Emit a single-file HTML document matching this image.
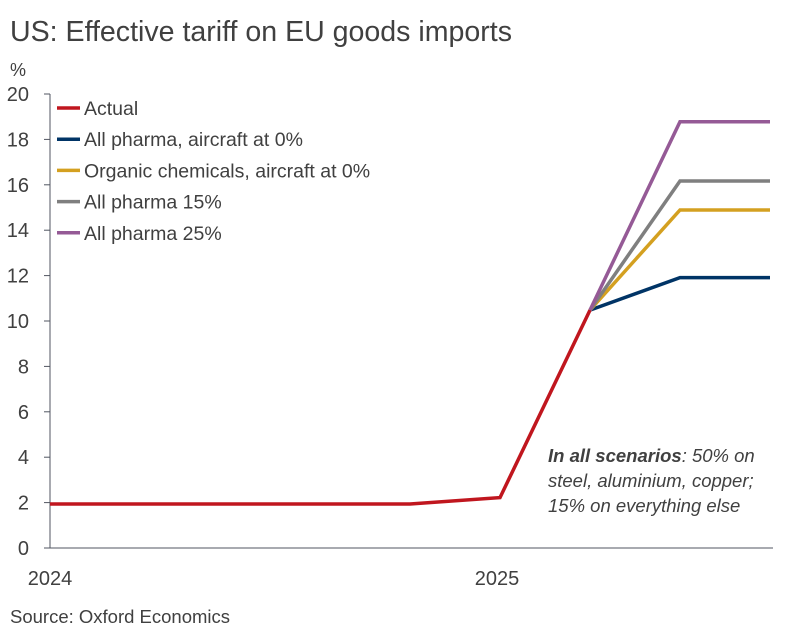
<!DOCTYPE html>
<html><head><meta charset="utf-8"><style>
body{margin:0;background:#fff;}
svg{display:block;font-family:"Liberation Sans",sans-serif;}
</style></head><body>
<svg id="c" width="796" height="633">
<text x="10" y="41" font-size="28.5" fill="#404040" textLength="502" lengthAdjust="spacingAndGlyphs">US: Effective tariff on EU goods imports</text>
<text x="10" y="76" font-size="18" fill="#404040">%</text>
<text x="10" y="623" font-size="18.5" fill="#404040">Source: Oxford Economics</text>
<g id="axes"></g>
<g id="series"></g>
<g id="legend"></g>
<text font-size="18.5" font-style="italic" fill="#404040">
<tspan x="548" y="462"><tspan font-weight="bold">In all scenarios</tspan>: 50% on</tspan>
<tspan x="548" y="487">steel, aluminium, copper;</tspan>
<tspan x="548" y="512">15% on everything else</tspan>
</text>
</svg>
<script>
const quarters=["2024Q1","2024Q2","2024Q3","2024Q4","2025Q1","2025Q2","2025Q3","2025Q4","2026Q1"];
const actual=[1.94,1.94,1.94,1.94,1.94,2.22,10.48,null,null];
const pharmaAircraft0=[null,null,null,null,null,null,10.48,11.91,11.91];
const organicChem=[null,null,null,null,null,null,10.48,14.89,14.89];
const pharma15=[null,null,null,null,null,null,10.48,16.17,16.17];
const pharma25=[null,null,null,null,null,null,10.48,18.78,18.78];
const yTicks=[0,2,4,6,8,10,12,14,16,18,20];
const xLabels=[["2024",0],["2025",5]];
const seriesNames=["Actual","All pharma, aircraft at 0%","Organic chemicals, aircraft at 0%","All pharma 15%","All pharma 25%"];
const NS="http://www.w3.org/2000/svg";
const X=i=>50+i*90;
const Y=v=>548-v*22.7;
function mk(t,a,p){const e=document.createElementNS(NS,t);for(const k in a)e.setAttribute(k,a[k]);p.appendChild(e);return e;}
const ax=document.getElementById('axes');
let yl=mk('line',{x1:50,y1:Y(20),x2:50,y2:548,stroke:'#505560','stroke-width':1},ax);


let xl=mk('line',{x1:44,y1:548,x2:773,y2:548,stroke:'#505560','stroke-width':1},ax);


yTicks.forEach(v=>{
 mk('line',{x1:44,y1:Y(v),x2:50,y2:Y(v),stroke:'#505560'},ax);
 const t=mk('text',{x:29,y:Y(v)+7,'font-size':20,fill:'#404040','text-anchor':'end'},ax);
 t.textContent=v;
 
 
});
xLabels.forEach(([s,i])=>{
 const t=mk('text',{x:X(i)-(i===0?0:3),y:585,'font-size':20,fill:'#404040','text-anchor':'middle'},ax);
 t.textContent=s;
 
 
});
const sg=document.getElementById('series');
const defs=[[pharmaAircraft0,'#003466','series-pharma-aircraft-0'],[organicChem,'#d4a020','series-organic-chemicals'],[pharma15,'#7f7f7f','series-pharma-15'],[pharma25,'#955a96','series-pharma-25'],[actual,'#c0161e','series-actual']];
defs.forEach(([d,c,n])=>{
 const pts=[];d.forEach((v,i)=>{if(v!==null)pts.push(X(i)+','+Y(v));});
 const p=mk('polyline',{points:pts.join(' '),fill:'none',stroke:c,'stroke-width':3.5,'stroke-linejoin':'miter'},sg);
 
 
});
const lg=document.getElementById('legend');
const lc=['#c0161e','#003466','#d4a020','#7f7f7f','#955a96'];
seriesNames.forEach((s,i)=>{
 const y=108+i*31.2;
 const g=mk('g',{},lg);
 
 
 mk('line',{x1:57,y1:y,x2:80,y2:y,stroke:lc[i],'stroke-width':3.5},g);
 const t=mk('text',{x:84,y:y+7,'font-size':19.5,fill:'#404040'},g);
 t.textContent=s;
});
</script>
</body></html>
